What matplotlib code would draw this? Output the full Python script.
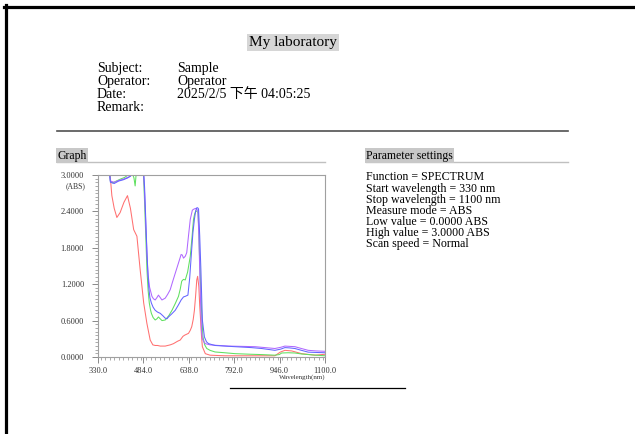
import matplotlib
matplotlib.use("Agg")
import matplotlib.pyplot as plt
from matplotlib.lines import Line2D
from matplotlib.ticker import MultipleLocator, FormatStrFormatter

W, H = 635, 434

plt.rcParams['font.family'] = ['Liberation Serif', 'Noto Sans CJK TC']

# Report header
title = "My laboratory"
info_keys = ["Subject:", "Operator:", "Date:", "Remark:"]
info_vals = ["Sample", "Operator", "2025/2/5 下午 04:05:25", ""]
param_lines = [
    "Function = SPECTRUM",
    "Start wavelength = 330 nm",
    "Stop wavelength = 1100 nm",
    "Measure mode = ABS",
    "Low value = 0.0000 ABS",
    "High value = 3.0000 ABS",
    "Scan speed = Normal",
]

# Spectra (wavelength nm, absorbance)
red_wl = [330, 368, 372, 377, 385, 394, 405, 418, 430, 440, 451, 462, 473, 485, 496, 507, 516,
          524, 532, 541, 558, 575, 586, 600, 609, 618, 624, 637, 643, 648, 653, 657, 661, 665,
          668, 672, 675, 678, 681, 684, 694, 710, 760, 850, 930, 948, 964, 987, 1021, 1066, 1100]
red_abs = [3.3, 3.1, 2.95, 2.66, 2.45, 2.30, 2.38, 2.55, 2.66, 2.45, 2.10, 1.99, 1.44, 0.89, 0.55,
           0.28, 0.20, 0.19, 0.19, 0.18, 0.18, 0.20, 0.22, 0.26, 0.28, 0.34, 0.36, 0.39, 0.44,
           0.50, 0.62, 0.77, 1.00, 1.27, 1.33, 1.16, 0.85, 0.61, 0.35, 0.17, 0.055, 0.03, 0.02,
           0.02, 0.02, 0.08, 0.11, 0.10, 0.055, 0.03, 0.045]

green_wl = [330, 368, 372, 380, 392, 405, 420, 432, 445, 452, 456, 460, 470, 484, 488, 492, 496,
            500, 504, 508, 511, 517, 524, 530, 535, 541, 547, 558, 570, 581, 592, 603, 609, 614,
            620, 626, 634, 643, 649, 654, 658, 662, 666, 669, 672, 674, 677, 680, 683, 686, 692,
            699, 710, 727, 760, 795, 850, 885, 930, 945, 953, 975, 998, 1020, 1043, 1070, 1100]
green_abs = [3.3, 3.1, 2.9, 2.87, 2.90, 2.93, 2.96, 3.0, 3.05, 2.95, 2.82, 3.05, 3.1, 3.05, 2.55,
             2.0, 1.44, 1.10, 0.89, 0.78, 0.72, 0.65, 0.61, 0.63, 0.66, 0.63, 0.60, 0.61, 0.68,
             0.77, 0.88, 1.00, 1.12, 1.25, 1.28, 1.27, 1.40, 1.66, 1.98, 2.27, 2.36, 2.41, 2.40,
             2.38, 2.10, 1.72, 1.30, 0.89, 0.60, 0.33, 0.20, 0.14, 0.11, 0.083, 0.07, 0.055,
             0.045, 0.04, 0.03, 0.04, 0.066, 0.07, 0.066, 0.05, 0.04, 0.03, 0.02]

blue_wl = [330, 368, 372, 385, 400, 415, 430, 440, 448, 458, 470, 484, 488, 491, 494, 498, 502,
           506, 511, 517, 524, 532, 541, 550, 558, 564, 569, 580, 592, 603, 612, 620, 626, 635,
           641, 647, 652, 657, 661, 665, 668, 671, 675, 679, 684, 691, 698, 705, 727, 760, 795,
           850, 885, 930, 950, 964, 980, 998, 1020, 1043, 1070, 1100]
blue_abs = [3.3, 3.1, 2.88, 2.86, 2.90, 2.92, 2.95, 2.98, 3.05, 3.1, 3.1, 3.1, 2.8, 2.4, 1.99,
            1.50, 1.16, 0.98, 0.89, 0.82, 0.77, 0.74, 0.72, 0.68, 0.64, 0.63, 0.66, 0.71, 0.77,
            0.86, 0.94, 0.99, 1.00, 1.02, 1.30, 1.72, 2.05, 2.27, 2.40, 2.46, 2.46, 2.44, 2.0,
            1.44, 0.61, 0.33, 0.25, 0.22, 0.19, 0.18, 0.17, 0.155, 0.14, 0.11, 0.13, 0.155,
            0.15, 0.14, 0.11, 0.08, 0.075, 0.07]

purple_wl = [330, 368, 372, 385, 400, 415, 430, 440, 448, 458, 470, 484, 488, 492, 496, 500, 505,
             513, 518, 524, 530, 535, 541, 547, 558, 566, 575, 583, 592, 603, 612, 616, 620, 626,
             631, 637, 643, 650, 656, 662, 666, 669, 672, 675, 678, 681, 684, 689, 694, 710, 740,
             772, 820, 863, 930, 950, 964, 980, 998, 1020, 1043, 1070, 1100]
purple_abs = [3.3, 3.1, 2.90, 2.88, 2.91, 2.93, 2.96, 2.98, 3.05, 3.1, 3.1, 3.1, 2.7, 2.2, 1.7,
              1.35, 1.15, 1.0, 0.96, 0.94, 0.98, 1.02, 0.98, 0.94, 0.97, 1.03, 1.11, 1.24, 1.38,
              1.55, 1.69, 1.68, 1.63, 1.66, 1.72, 2.0, 2.27, 2.42, 2.44, 2.45, 2.43, 2.41, 2.0,
              1.44, 0.9, 0.44, 0.30, 0.25, 0.22, 0.20, 0.19, 0.18, 0.175, 0.17, 0.14, 0.16, 0.18,
              0.175, 0.17, 0.14, 0.11, 0.10, 0.094]

x_ticks = [330.0, 484.0, 638.0, 792.0, 946.0, 1100.0]
y_ticks = [0.0, 0.6, 1.2, 1.8, 2.4, 3.0]


def fx(x):
    return x / W


def fy(y):
    return 1 - y / H


fig = plt.figure(figsize=(W / 100, H / 100), dpi=100)

# page frame (top and left edges only)
fig.add_artist(Line2D([fx(4), fx(634)], [fy(6.5), fy(6.5)], color='black', lw=2.3))
fig.add_artist(Line2D([fx(5.5), fx(5.5)], [fy(5), fy(434)], color='black', lw=2.3))

fig.text(fx(293), fy(46), title, ha='center', va='baseline', fontsize=11,
         bbox=dict(facecolor='#d6d6d6', edgecolor='none', pad=1.5))

for i, (k, v) in enumerate(zip(info_keys, info_vals)):
    y = 72.3 + i * 12.8
    fig.text(fx(97), fy(y), k, ha='left', va='baseline', fontsize=10)
    fig.text(fx(177), fy(y), v, ha='left', va='baseline', fontsize=10)

fig.add_artist(Line2D([fx(57), fx(568)], [fy(130.5), fy(130.5)], color='#505050', lw=1.2))

# section headings
for x0, x1, label in [(57, 325, "Graph"), (366, 568, "Parameter settings")]:
    fig.text(fx(x0), fy(158.5), label, ha='left', va='baseline', fontsize=8.5,
             bbox=dict(facecolor='#c8c8c8', edgecolor='none', pad=1.0))
    fig.add_artist(Line2D([fx(x0), fx(x1)], [fy(161.5), fy(161.5)], color='#c0c0c0', lw=1.0))

for i, line in enumerate(param_lines):
    fig.text(fx(366), fy(180.5 + i * 11.1), line, ha='left', va='baseline', fontsize=8.6)

# spectrum plot
ax = fig.add_axes([fx(98), fy(357), (325 - 98) / W, (357 - 175) / H])
ax.plot(red_wl, red_abs, color='#ff7070', lw=0.75)
ax.plot(green_wl, green_abs, color='#5fe05f', lw=0.75)
ax.plot(purple_wl, purple_abs, color='#b068ff', lw=0.75)
ax.plot(blue_wl, blue_abs, color='#6464ff', lw=0.75)

ax.set_xlim(330, 1100)
ax.set_ylim(0, 3.0)
ax.set_xticks(x_ticks)
ax.set_yticks(y_ticks)
ax.xaxis.set_minor_locator(MultipleLocator(15.4))
ax.yaxis.set_minor_locator(MultipleLocator(0.06))
ax.xaxis.set_major_formatter(FormatStrFormatter('%.1f'))
ax.yaxis.set_major_formatter(FormatStrFormatter('%.4f'))
ax.tick_params(axis='both', which='major', labelsize=6, length=4, width=0.6,
               color='#777777', labelcolor='#333333')
ax.tick_params(axis='both', which='minor', length=2, width=0.5, color='#888888')
ax.tick_params(axis='y', which='major', pad=6)
ax.tick_params(axis='x', which='major', pad=3)
for s in ax.spines.values():
    s.set_color('#a0a0a0')
    s.set_linewidth(0.8)

fig.text(fx(86), fy(186), "(ABS)", ha='right', va='center', fontsize=5.5, color='#333333')
fig.text(fx(325), fy(377.5), "Wavelength(nm)", ha='right', va='center', fontsize=5,
         color='#333333')

fig.add_artist(Line2D([fx(230), fx(405)], [fy(388), fy(388)], color='black', lw=0.9))

fig.savefig("out.png", dpi=100)
